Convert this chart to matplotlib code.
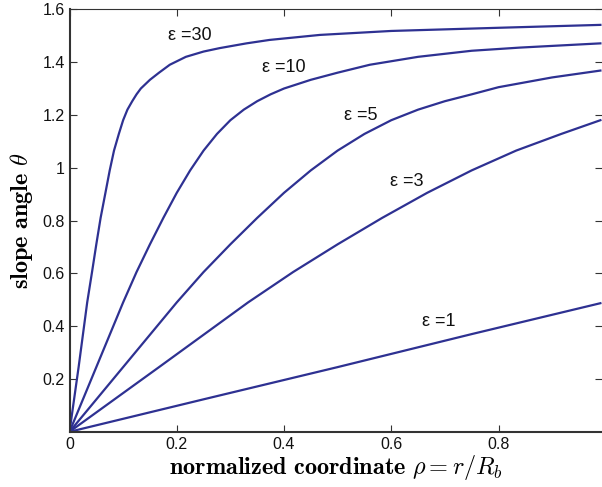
import matplotlib
matplotlib.use("Agg")
import matplotlib.pyplot as plt

# дані: rho (нормована координата) та theta (кут нахилу)
rho_30 = [0, 0.017, 0.033, 0.042, 0.05, 0.058, 0.067, 0.075, 0.083, 0.092, 0.10, 0.108,
          0.117, 0.125, 0.133, 0.15, 0.167, 0.187, 0.217, 0.25, 0.28, 0.33, 0.373, 0.467,
          0.60, 0.80, 0.99]
theta_30 = [0, 0.245, 0.49, 0.605, 0.71, 0.81, 0.905, 0.99, 1.065, 1.128, 1.18, 1.22,
            1.252, 1.278, 1.30, 1.333, 1.36, 1.39, 1.42, 1.44, 1.453, 1.471, 1.484, 1.503,
            1.518, 1.53, 1.541]

rho_10 = [0, 0.05, 0.10, 0.125, 0.15, 0.175, 0.20, 0.225, 0.25, 0.275, 0.30, 0.325,
          0.35, 0.375, 0.40, 0.45, 0.50, 0.56, 0.65, 0.75, 0.84, 0.99]
theta_10 = [0, 0.245, 0.49, 0.605, 0.71, 0.81, 0.905, 0.99, 1.065, 1.128, 1.18, 1.22,
            1.252, 1.278, 1.30, 1.333, 1.36, 1.39, 1.42, 1.443, 1.455, 1.471]

rho_5 = [0, 0.10, 0.20, 0.25, 0.30, 0.35, 0.40, 0.45, 0.50, 0.55, 0.60, 0.65, 0.70,
         0.75, 0.80, 0.90, 0.99]
theta_5 = [0, 0.245, 0.49, 0.605, 0.71, 0.81, 0.905, 0.99, 1.065, 1.128, 1.18, 1.22,
           1.252, 1.278, 1.305, 1.342, 1.368]

rho_3 = [0, 0.167, 0.333, 0.417, 0.50, 0.583, 0.667, 0.75, 0.833, 0.917, 0.99]
theta_3 = [0, 0.245, 0.49, 0.605, 0.71, 0.81, 0.905, 0.99, 1.065, 1.128, 1.18]

rho_1 = [0, 0.25, 0.50, 0.75, 0.99]
theta_1 = [0, 0.123, 0.245, 0.37, 0.487]

labels = ['ε =30', 'ε =10', 'ε =5', 'ε =3', 'ε =1']
label_pos = [(0.184, 1.50), (0.359, 1.38), (0.512, 1.196), (0.597, 0.948), (0.657, 0.418)]

xticks = [0, 0.2, 0.4, 0.6, 0.8]
yticks = [0.2, 0.4, 0.6, 0.8, 1.0, 1.2, 1.4, 1.6]

plt.rcParams['font.family'] = ['Liberation Sans', 'DejaVu Sans']
plt.rcParams['mathtext.fontset'] = 'cm'

fig = plt.figure(figsize=(6.02, 4.87), dpi=100)
ax = fig.add_axes([69.5 / 602, 1 - 431.8 / 487, (602 - 69.5) / 602, (431.8 - 9.3) / 487])

line_color = '#2e3192'
for r, t in [(rho_30, theta_30), (rho_10, theta_10), (rho_5, theta_5),
             (rho_3, theta_3), (rho_1, theta_1)]:
    ax.plot(r, t, color=line_color, linewidth=1.6)

for txt, (x, y) in zip(labels, label_pos):
    ax.text(x, y, txt, fontsize=13, va='center', ha='left', color='#111111')

ax.set_xlim(0, 0.993)
ax.set_ylim(0, 1.6)
ax.set_xticks(xticks)
ax.set_xticklabels(['0', '0.2', '0.4', '0.6', '0.8'])
ax.set_yticks(yticks)
ax.set_yticklabels(['0.2', '0.4', '0.6', '0.8', '1', '1.2', '1.4', '1.6'])
ax.tick_params(direction='in', length=5, width=0.8, labelsize=11.5, top=True, right=True,
               colors='#333333', labelcolor='#111111')

for side in ['left', 'bottom']:
    ax.spines[side].set_linewidth(1.5)
    ax.spines[side].set_color('#333333')
ax.spines['top'].set_linewidth(0.8)
ax.spines['top'].set_color('#333333')
ax.spines['right'].set_visible(False)

ax.set_xlabel(r'$\mathbf{normalized\ coordinate}\ \rho = r/R_b$', fontsize=17.5, labelpad=1)
ax.set_ylabel(r'$\mathbf{slope\ angle}\ \theta$', fontsize=17.5, labelpad=5)

fig.savefig('out.png', dpi=100)
